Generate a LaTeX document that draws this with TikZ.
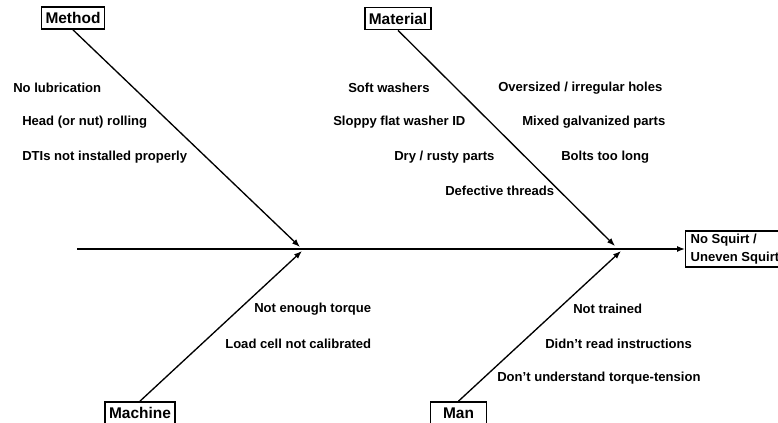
\documentclass[tikz,border=0pt]{standalone}
\usepackage{fontspec}
\setmainfont{Liberation Sans}
\usetikzlibrary{arrows.meta}
\tikzset{>={Latex[length=6pt,width=4.5pt]}}
\tikzset{
	bone/.style={draw, line width=1.3pt, font=\fontsize{11.6}{13}\selectfont\bfseries, inner xsep=3pt, inner ysep=0pt, minimum height=16.5pt},
	cause/.style={anchor=west, inner sep=0pt, font=\fontsize{9.8}{11}\selectfont\bfseries},
}

\begin{document}
\begin{tikzpicture}[x=0.75pt,y=-0.75pt]
			\useasboundingbox (0,0) rectangle (778,423);
			\coordinate (T) at (77,249);
			\coordinate (A) at (300,247);
			\coordinate (B) at (615,246);
			\coordinate (C) at (302,251);
			\coordinate (D) at (621,251);
			
			% heads of the bones
			\node[bone] (method) at (73,18) {Method};
			\node[bone] (material) at (398,18.5) {Material};
			\node[bone] (machine) at (140,413) {Machine};
			\node[bone, minimum width=42pt] (man) at (458.5,413) {Man};
			\node[draw, line width=1pt, anchor=west, align=left, inner xsep=3.75pt, inner ysep=1pt, minimum height=27pt, font=\fontsize{9.8}{13.5}\selectfont\bfseries] (effect) at (685,249) {No Squirt /\\Uneven Squirt\hspace{7pt}};
			
			\draw[line width=1pt,->] (T)--(effect);
			\draw[line width=1pt,->] (method.south)--(A);
			\draw[line width=1pt,->] (material.south)--(B);
			\draw[line width=1pt,->] (machine.north)--(C);
			\draw[line width=1pt,->] (man.north)--(D);
			
			% causes
			\node[cause] (m1) at (13,88) {No lubrication};
			\node[cause] (m2) at (22,122) {Head (or nut) rolling};
			\node[cause] (m3) at (22,157) {DTIs not installed properly};
			\node[cause] (t1) at (348,88) {Soft washers};
			\node[cause] (t2) at (333,122) {Sloppy flat washer ID};
			\node[cause] (t3) at (394,157) {Dry / rusty parts};
			\node[cause] (t4) at (445,191) {Defective threads};
			\node[cause] (t5) at (498,88) {Oversized / irregular holes};
			\node[cause] (t6) at (522,122) {Mixed galvanized parts};
			\node[cause] (t7) at (561,157) {Bolts too long};
			\node[cause] (c1) at (254,309) {Not enough torque};
			\node[cause] (c2) at (225,344) {Load cell not calibrated};
			\node[cause] (d1) at (573,309) {Not trained};
			\node[cause] (d2) at (545,344) {Didn't read instructions};
			\node[cause] (d3) at (497,378) {Don't understand torque-tension};
		\end{tikzpicture}
\end{document}
